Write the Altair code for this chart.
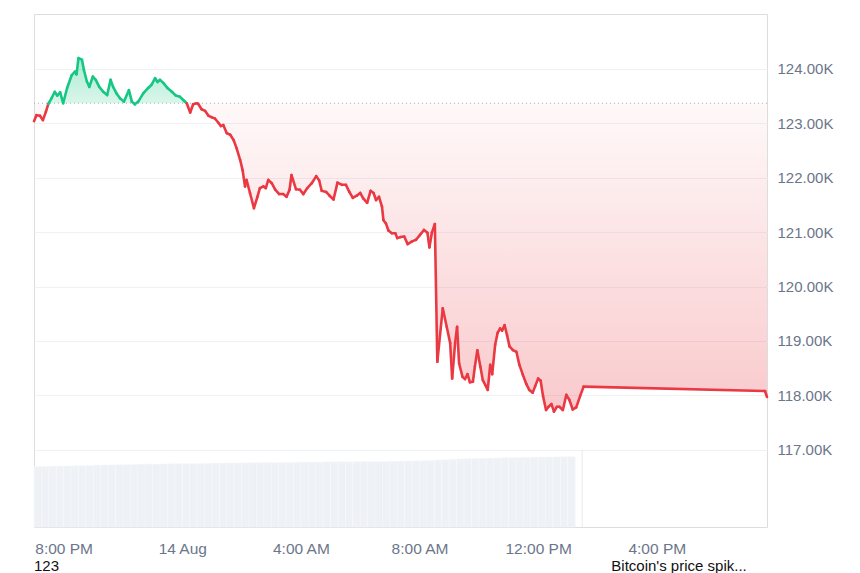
import altair as alt
import pandas as pd

# ---- data (minutes after 13 Aug 7:00 PM, price in K USD)
minutes = [0, 5, 12, 18, 24, 29, 36, 42, 47, 53, 59, 67, 76, 83, 86, 90, 97, 101, 107, 112,
           119, 125, 132, 140, 148, 155, 160, 167, 174, 182, 192, 198, 204, 211, 221, 231, 238, 245, 250, 255,
           262, 270, 279, 287, 295, 304, 309, 316, 322, 329, 332, 339, 346, 353, 360, 366, 373, 378, 383, 390,
           397, 404, 410, 417, 422, 427, 430, 437, 445, 452, 457, 464, 469, 474, 481, 488, 496, 504, 511, 517,
           521, 530, 538, 545, 553, 562, 571, 577, 582, 591, 598, 606, 614, 623, 631, 638, 645, 653, 660, 666,
           674, 681, 687, 692, 698, 704, 707, 712, 717, 724, 731, 735, 742, 749, 756, 765, 773, 781, 789, 796,
           800, 805, 811, 816, 827, 835, 842, 846, 852, 856, 860, 867, 872, 877, 882, 888, 892, 897, 903, 908,
           913, 918, 923, 927, 933, 938, 943, 947, 952, 957, 962, 969, 976, 982, 989, 996, 1002, 1009, 1014, 1020,
           1025, 1030, 1036, 1041, 1047, 1052, 1058, 1063, 1070, 1077, 1083, 1090, 1097, 1105, 1112, 1479, 1483]
prices = [123.04, 123.15, 123.14, 123.06, 123.21, 123.36, 123.47, 123.58, 123.51, 123.57, 123.37, 123.65, 123.88, 123.95, 123.90, 124.20, 124.17, 123.98, 123.77, 123.67,
          123.86, 123.80, 123.67, 123.58, 123.52, 123.80, 123.67, 123.55, 123.46, 123.40, 123.61, 123.40, 123.35, 123.40, 123.55, 123.65, 123.71, 123.83, 123.76, 123.80,
          123.74, 123.65, 123.58, 123.51, 123.49, 123.41, 123.37, 123.20, 123.35, 123.37, 123.36, 123.26, 123.23, 123.14, 123.11, 123.09, 123.01, 122.95, 122.97, 122.82,
          122.79, 122.69, 122.54, 122.33, 122.14, 121.84, 121.96, 121.72, 121.44, 121.65, 121.81, 121.84, 121.81, 121.96, 121.90, 121.78, 121.70, 121.70, 121.65, 121.78,
          122.05, 121.79, 121.78, 121.70, 121.81, 121.90, 122.03, 121.95, 121.76, 121.74, 121.67, 121.60, 121.91, 121.87, 121.87, 121.74, 121.63, 121.67, 121.72, 121.62,
          121.54, 121.76, 121.72, 121.59, 121.65, 121.47, 121.22, 121.16, 121.03, 120.98, 120.98, 120.89, 120.91, 120.92, 120.78, 120.83, 120.86, 120.95, 121.04, 120.99,
          120.72, 120.99, 121.15, 118.62, 119.60, 119.26, 118.96, 118.31, 118.96, 119.26, 118.59, 118.34, 118.30, 118.39, 118.24, 118.25, 118.53, 118.83, 118.53, 118.28,
          118.19, 118.10, 118.56, 118.39, 118.93, 119.15, 119.23, 119.19, 119.29, 119.11, 118.90, 118.83, 118.80, 118.56, 118.38, 118.21, 118.10, 118.05, 118.17, 118.31,
          118.27, 117.98, 117.73, 117.79, 117.84, 117.70, 117.79, 117.79, 117.73, 118.01, 117.92, 117.74, 117.78, 117.99, 118.16, 118.08, 117.97]

# volume bars, 15-minute buckets from 7:00 PM (relative units)
volumes = [60.5, 60.6, 60.8, 60.9, 61.0, 61.2, 61.4, 61.6, 61.9, 62.0,
           62.1, 62.3, 62.4, 62.6, 62.8, 63.0, 62.9, 63.1, 63.2, 63.4,
           63.5, 63.4, 63.6, 63.7, 63.9, 64.0, 64.1, 64.0, 64.2, 64.3,
           64.4, 64.5, 64.4, 64.6, 64.7, 64.8, 64.9, 65.0, 64.9, 65.1,
           65.2, 65.3, 65.2, 65.4, 65.5, 65.6, 65.5, 65.7, 65.8, 65.9,
           66.0, 66.1, 66.3, 66.6, 67.0, 67.4, 67.8, 68.1, 68.3, 68.5,
           68.7, 68.9, 69.0, 69.2, 69.4, 69.5, 69.6, 69.8, 69.9, 70.0,
           70.1, 70.2, 70.3]

baseline_price = 123.37
tick_minutes = [60, 300, 540, 780, 1020, 1260]      # 8PM, 14 Aug, 4AM, 8AM, 12PM, 4PM
y_ticks = [117, 118, 119, 120, 121, 122, 123, 124]
separator_minute = 1109
annotations = ["123", "Bitcoin's price spik..."]
annotation_minutes = [0, 1168]

# ---- build tables
T0 = int(pd.Timestamp("2025-08-13 19:00:00", tz="UTC").value // 10**6)
MIN = 60000
END = 1483

price_df = pd.DataFrame({"t": [T0 + m * MIN for m in minutes], "p": prices})
vol_df = pd.DataFrame({"t": [T0 + i * 15 * MIN for i in range(len(volumes))],
                       "t2": [T0 + (i + 1) * 15 * MIN for i in range(len(volumes))],
                       "v": volumes})
sep_df = pd.DataFrame({"t": [T0 + separator_minute * MIN], "lo": [115.58], "hi": [117.0]})
ann_df = pd.DataFrame({"t": [T0 + m * MIN for m in annotation_minutes], "txt": annotations})

RED = "#ea3943"
GREEN = "#16c784"
FONT = "Liberation Sans"

xscale = alt.Scale(type="utc", domain=[T0, T0 + END * MIN], nice=False)
yscale = alt.Scale(domain=[115.58, 125.01], nice=False, zero=False)

xaxis = alt.Axis(values=[T0 + m * MIN for m in tick_minutes],
                 labelExpr="utcFormat(datum.value, '%H') == '00' ? utcFormat(datum.value, '%d %b') : utcFormat(datum.value, '%-I:%M %p')",
                 grid=False, domain=False, ticks=False, labelPadding=14, labelFontSize=15.5,
                 labelColor="#6b768a", labelFont=FONT, title=None, labelFlush=False)
yaxis = alt.Axis(orient="right", values=y_ticks,
                 labelExpr="format(datum.value, '.2f') + 'K'",
                 grid=True, gridColor="#eff2f5", domain=False, ticks=False, labelPadding=10,
                 labelFontSize=15, labelColor="#6b768a", labelFont=FONT, title=None)

X = alt.X("t:T", scale=xscale, axis=xaxis)

def Y(field):
    return alt.Y(field, scale=yscale, axis=yaxis)

volume = alt.Chart(vol_df).mark_rect(color="#eef1f5", stroke="#f7f8fa", strokeWidth=0.6).encode(
    x=X,
    x2="t2:T",
    y=alt.Y("v:Q", scale=alt.Scale(domain=[0, 513]), axis=None),
    y2=alt.datum(0),
)

sep = alt.Chart(sep_df).mark_rule(color="#e8eaee", strokeWidth=1).encode(
    x=X, y=Y("lo:Q"), y2="hi:Q",
)

price_base = alt.Chart(price_df)

green_area = price_base.transform_calculate(
    up=f"max(datum.p, {baseline_price})", b=f"{baseline_price}"
).mark_area(
    color=alt.Gradient(gradient="linear", x1=0, x2=0, y1=0, y2=1,
                       stops=[alt.GradientStop(color="rgba(22,199,132,0.36)", offset=0),
                              alt.GradientStop(color="rgba(22,199,132,0.16)", offset=1)])
).encode(x=X, y=Y("up:Q"), y2="b:Q")

red_area = price_base.transform_calculate(
    dn=f"min(datum.p, {baseline_price})", b=f"{baseline_price}"
).mark_area(
    color=alt.Gradient(gradient="linear", x1=0, x2=0, y1=0, y2=1,
                       stops=[alt.GradientStop(color="rgba(234,57,67,0.03)", offset=0),
                              alt.GradientStop(color="rgba(234,57,67,0.27)", offset=1)])
).encode(x=X, y=Y("dn:Q"), y2="b:Q")

base_rule = alt.Chart(pd.DataFrame({"b": [baseline_price]})).mark_rule(
    color="#a7adb7", strokeDash=[1, 3], strokeWidth=1
).encode(y=Y("b:Q"))

segments = price_base.transform_window(
    window=[alt.WindowFieldDef(op="lead", field="t", param=1, **{"as": "tn"}),
            alt.WindowFieldDef(op="lead", field="p", param=1, **{"as": "pn"})],
    frame=[None, None],
).transform_filter("datum.tn != null").transform_calculate(
    side=f"(datum.p + datum.pn) / 2 >= {baseline_price} ? 'up' : 'down'"
).mark_rule(strokeWidth=2.6, strokeCap="round").encode(
    x=X, x2="tn:T",
    y=Y("p:Q"), y2="pn:Q",
    color=alt.Color("side:N", scale=alt.Scale(domain=["up", "down"], range=[GREEN, RED]), legend=None),
)

ann = alt.Chart(ann_df).mark_text(align="left", baseline="middle", fontSize=15, font=FONT,
                                  color="#111111").encode(
    x=X, y=alt.value(552), text="txt:N"
)

price_layer = alt.layer(red_area, green_area, base_rule, segments, sep, ann)

chart = alt.layer(volume, price_layer).resolve_scale(y="independent").properties(
    width=733, height=513,
    padding={"left": 24, "top": 6, "right": 5, "bottom": 5},
).configure_view(stroke="#eceff2", strokeWidth=1).configure(background="white")

chart.save("out.html", embed_options={"renderer": "svg", "actions": False})
